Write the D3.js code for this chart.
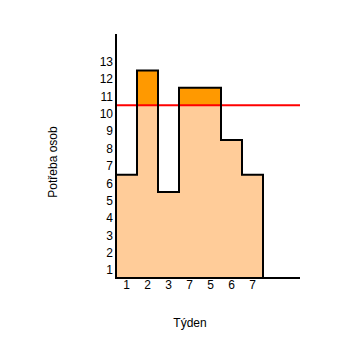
<!DOCTYPE html>
<html><head><meta charset="utf-8">
<script src="https://cdn.jsdelivr.net/npm/d3@7"></script>
<style>body{margin:0;background:#fff}svg{display:block}text{font-family:"Liberation Sans",Arial,sans-serif;font-size:12px;fill:#000}</style>
</head><body>
<script>
const weekLabels = ["1","2","3","7","5","6","7"];
const demand = [6.5, 12.5, 5.5, 11.5, 11.5, 8.5, 6.5];
const capacity = 10.5;
const yTicks = [1,2,3,4,5,6,7,8,9,10,11,12,13];
const xTitle = "Týden";
const yTitle = "Potřeba osob";

const W = 341, H = 348;
const svg = d3.select("body").append("svg").attr("width", W).attr("height", H);
const idx = demand.map((d,i)=>i);
const x = d3.scaleBand().domain(idx).range([116, 263]).padding(0);
const y = d3.scaleLinear().domain([0.55, 14.6]).range([278, 34]);
const xEnd = 300;

// fills
const g = svg.append("g");
g.selectAll("rect.low").data(demand).join("rect")
  .attr("x",(d,i)=>x(i)).attr("width",x.bandwidth())
  .attr("y",d=>y(Math.min(d,capacity))).attr("height",d=>y(0.55)-y(Math.min(d,capacity)))
  .attr("fill","#FFCC99");
g.selectAll("rect.high").data(demand.filter(d=>d>capacity).length?demand:[]).join("rect")
  .attr("x",(d,i)=>x(i)).attr("width",x.bandwidth())
  .attr("y",d=>y(Math.max(d,capacity))).attr("height",d=>y(capacity)-y(Math.max(d,capacity)))
  .attr("fill","#FF9900");

// capacity line
svg.append("line").attr("x1",x(0)).attr("x2",xEnd).attr("y1",y(capacity)).attr("y2",y(capacity))
  .attr("stroke","#FF0000").attr("stroke-width",2);

// step outline
const pts = [[x(0), y(0.55)]];
demand.forEach((d,i)=>{ pts.push([x(i), y(d)]); pts.push([x(i)+x.bandwidth(), y(d)]); });
pts.push([x(demand.length-1)+x.bandwidth(), y(0.55)]);
svg.append("path").attr("d", d3.line()(pts)).attr("fill","none").attr("stroke","#000").attr("stroke-width",2);

// axes
svg.append("line").attr("x1",116).attr("x2",116).attr("y1",34).attr("y2",y(0.55)+1).attr("stroke","#000").attr("stroke-width",2);
svg.append("line").attr("x1",115).attr("x2",xEnd).attr("y1",y(0.55)).attr("y2",y(0.55)).attr("stroke","#000").attr("stroke-width",2);

svg.selectAll("text.yt").data(yTicks).join("text").attr("class","yt")
  .attr("x",113).attr("y",d=>y(d)).attr("dy","0.35em").attr("text-anchor","end").text(d=>d);
svg.selectAll("text.xt").data(weekLabels).join("text").attr("class","xt")
  .attr("x",(d,i)=>x(i)+x.bandwidth()/2).attr("y",289).attr("text-anchor","middle").text(d=>d);

svg.append("text").attr("x",190).attr("y",327).attr("text-anchor","middle").text(xTitle);
svg.append("text").attr("transform","translate(57,162) rotate(-90)").attr("text-anchor","middle").text(yTitle);
</script>
</body></html>
